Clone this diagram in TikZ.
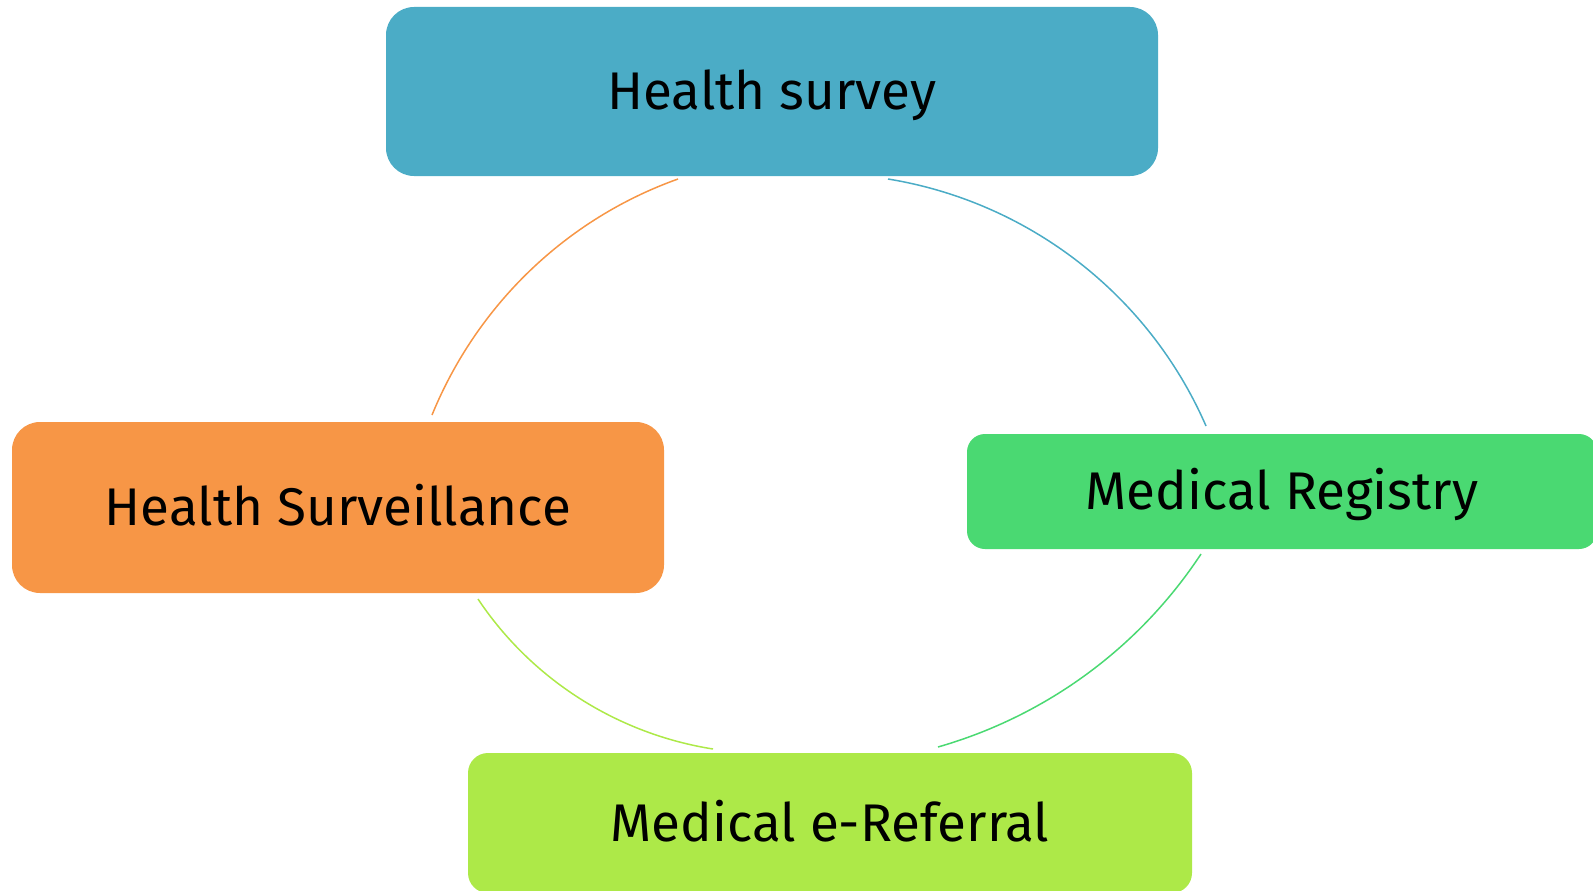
\documentclass[tikz,border=0pt]{standalone}
\usepackage{fontspec}
\newfontfamily\boxfont{Fira Sans}
\usetikzlibrary{calc}
\definecolor{surveyblue}{HTML}{4BACC6}
\definecolor{survorange}{HTML}{F79646}
\definecolor{reggreen}{HTML}{4AD972}
\definecolor{erefgreen}{HTML}{ADE948}
\tikzset{box/.style={rectangle, inner sep=0pt, text height=36.5pt, text depth=0pt, font=\boxfont\fontsize{53}{53}\selectfont, text=black}}
\tikzset{link/.style={line width=1.5pt}}

\begin{document}
\begin{tikzpicture}[x=1pt,y=-1pt]
        \useasboundingbox (0,0) rectangle (1593,891);
        \node[box, fill=surveyblue, rounded corners=28pt, minimum width=772pt, minimum height=169pt] (survey) at (772,91.5) {Health survey};
        \node[box, fill=survorange, rounded corners=28pt, minimum width=652pt, minimum height=171pt] (surv) at (338,507.5) {Health Surveillance};
        \node[box, fill=reggreen, rounded corners=18pt, minimum width=630pt, minimum height=115pt] (reg) at (1282,491.5) {Medical Registry};
        \node[box, fill=erefgreen, rounded corners=20pt, minimum width=724pt, minimum height=140pt] (eref) at (830,823) {Medical e-Referral};
        % arc ends
        \coordinate (a1) at (678,179);
        \coordinate (a2) at (432,415);
        \coordinate (b1) at (888,179);
        \coordinate (b2) at (1206,426);
        \coordinate (c1) at (1201,554);
        \coordinate (c2) at (938,747);
        \coordinate (d1) at (478,599);
        \coordinate (d2) at (713,749);
        \draw[link, survorange] (a1) .. controls (566,219) and (477,305) .. (a2);
        \draw[link, surveyblue] (b1) .. controls (1029,202) and (1149,295) .. (b2);
        \draw[link, reggreen] (c1) .. controls (1139,648) and (1046,716) .. (c2);
        \draw[link, erefgreen] (d1) .. controls (532,680) and (618,734) .. (d2);
      \end{tikzpicture}
\end{document}
